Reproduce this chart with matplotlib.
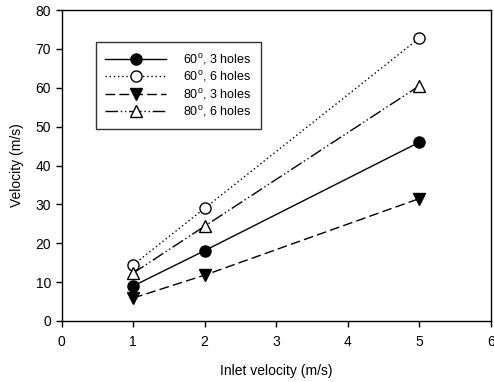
import numpy as np
import matplotlib.pyplot as plt

plt.rcParams['font.family'] = ['Liberation Sans', 'DejaVu Sans']
plt.rcParams['mathtext.fontset'] = 'custom'
plt.rcParams['mathtext.rm'] = 'Liberation Sans'

x = [1, 2, 5]
v60_3 = [9.0, 18.1, 46.0]
v60_6 = [14.4, 29.0, 72.8]
v80_3 = [5.9, 11.8, 31.5]
v80_6 = [12.3, 24.4, 60.5]
labels = ['60$^{\\mathrm{o}}$, 3 holes', '60$^{\\mathrm{o}}$, 6 holes',
          '80$^{\\mathrm{o}}$, 3 holes', '80$^{\\mathrm{o}}$, 6 holes']

fig = plt.figure(figsize=(4.94, 3.82), dpi=100)
ax = fig.add_axes([61.5/494, 61/382, (491-61.5)/494, (321-10)/382])

ms = 8
ax.plot(x, v60_3, color='black', lw=1, ls='-', marker='o', ms=ms,
        mfc='black', mec='black', label=labels[0])
ax.plot(x, v60_6, color='black', lw=1, ls=(0, (1, 2)), marker='o', ms=ms,
        mfc='white', mec='black', label=labels[1])
ax.plot(x, v80_3, color='black', lw=1, ls=(0, (7, 3)), marker='v', ms=ms,
        mfc='black', mec='black', label=labels[2])
ax.plot(x, v80_6, color='black', lw=1, ls=(0, (9, 2, 1, 2, 1, 2)), marker='^', ms=ms,
        mfc='white', mec='black', label=labels[3])

ax.set_xlim(0, 6)
ax.set_ylim(0, 80)
ax.set_xticks(range(0, 7))
ax.set_yticks(range(0, 81, 10))
ax.tick_params(direction='out', length=4, width=1, labelsize=10, top=False, right=False)
ax.tick_params(axis='x', pad=6)
for s in ax.spines.values():
    s.set_linewidth(1)
ax.set_xlabel('Inlet velocity (m/s)', fontsize=10, labelpad=11)
ax.set_ylabel('Velocity (m/s)', fontsize=10, labelpad=8)

leg = ax.legend(loc='upper left', bbox_to_anchor=(0.08, 0.896), fontsize=9,
                frameon=True, fancybox=False, edgecolor='black', handlelength=4.9,
                handletextpad=1.35, borderpad=0.75, labelspacing=0.2, borderaxespad=0)
leg.get_frame().set_linewidth(1)

fig.savefig('out.png', dpi=100)
